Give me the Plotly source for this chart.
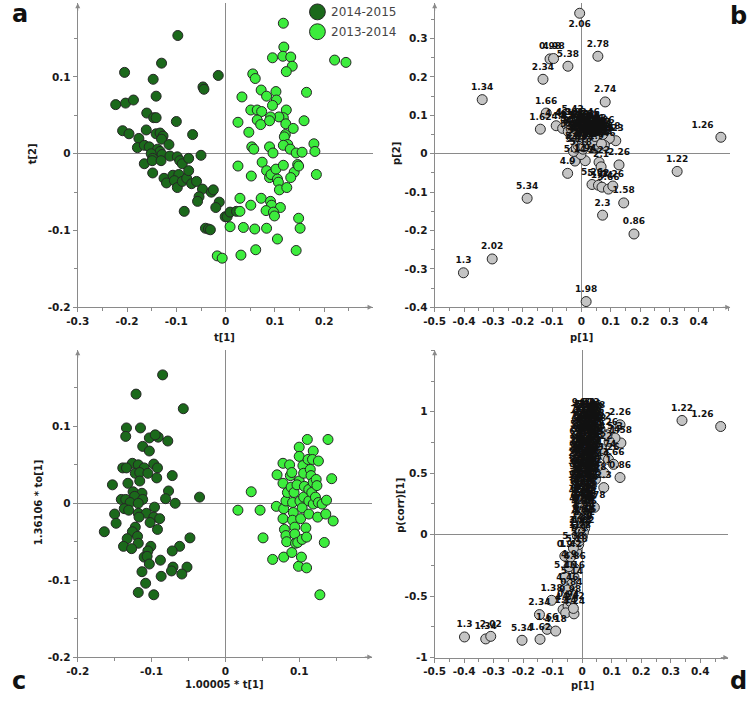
import plotly.graph_objects as go

# ---------------- Panel a : scores t[1] / t[2] ----------------
a_dark_t1 = [
    -0.097, -0.205, -0.130, -0.147, -0.015, -0.046, -0.044, -0.141, -0.223, -0.203,
    -0.187, -0.160, -0.146, -0.141, -0.100, -0.209, -0.196, -0.161, -0.067, -0.176,
    -0.141, -0.133, -0.127, -0.130, -0.179, -0.165, -0.155, -0.138, -0.115, -0.133,
    -0.129, -0.151, -0.148, -0.165, -0.149, -0.131, -0.113, -0.098, -0.093, -0.088,
    -0.075, -0.050, -0.148, -0.125, -0.120, -0.107, -0.095, -0.104, -0.098, -0.088,
    -0.079, -0.075, -0.069, -0.059, -0.047, -0.029, -0.025, -0.054, -0.057, -0.013,
    -0.020, -0.084, -0.001, 0.003, 0.009, 0.022, -0.041, -0.035, -0.031]
a_dark_t2 = [
    0.154, 0.106, 0.118, 0.097, 0.102, 0.087, 0.084, 0.075, 0.064, 0.066,
    0.070, 0.053, 0.047, 0.047, 0.042, 0.030, 0.026, 0.031, 0.025, 0.020,
    0.026, 0.027, 0.023, 0.019, 0.008, 0.011, 0.009, 0.006, 0.012, 0.003,
    -0.001, 0.000, -0.006, -0.013, -0.009, -0.009, -0.003, -0.004, -0.009, -0.013,
    -0.006, -0.002, -0.025, -0.032, -0.038, -0.028, -0.027, -0.035, -0.044, -0.036,
    -0.032, -0.022, -0.039, -0.036, -0.046, -0.050, -0.047, -0.056, -0.062, -0.063,
    -0.070, -0.075, -0.082, -0.082, -0.076, -0.075, -0.097, -0.098, -0.099]
a_light_t1 = [
    0.117, 0.118, 0.095, 0.116, 0.132, 0.135, 0.123, 0.221, 0.244, 0.055,
    0.060, 0.164, 0.072, 0.102, 0.033, 0.083, 0.103, 0.095, 0.051, 0.064,
    0.073, 0.123, 0.117, 0.108, 0.091, 0.064, 0.071, 0.025, 0.122, 0.089,
    0.137, 0.159, 0.047, 0.121, 0.119, 0.126, 0.117, 0.131, 0.143, 0.155,
    0.179, 0.181, 0.053, 0.057, 0.089, 0.096, 0.025, 0.074, 0.083, 0.089,
    0.092, 0.102, 0.105, 0.107, 0.117, 0.139, 0.132, 0.146, 0.148, 0.184,
    0.052, 0.109, 0.124, 0.029, 0.072, 0.051, 0.091, 0.093, 0.111, 0.082,
    0.097, 0.099, 0.029, 0.148, 0.151, 0.009, 0.036, 0.059, 0.083, 0.105,
    0.061, 0.143, 0.031, -0.017, -0.007]
a_light_t2 = [
    0.170, 0.139, 0.125, 0.127, 0.126, 0.114, 0.107, 0.122, 0.119, 0.104,
    0.098, 0.080, 0.083, 0.081, 0.074, 0.075, 0.070, 0.063, 0.057, 0.057,
    0.055, 0.057, 0.047, 0.048, 0.048, 0.044, 0.038, 0.041, 0.039, 0.043,
    0.033, 0.043, 0.028, 0.025, 0.022, 0.012, 0.011, 0.006, 0.001, 0.002,
    0.013, 0.003, 0.009, 0.006, 0.009, 0.001, -0.016, -0.011, -0.022, -0.031,
    -0.027, -0.020, -0.033, -0.037, -0.015, -0.024, -0.031, -0.014, -0.016, -0.027,
    -0.029, -0.047, -0.044, -0.058, -0.058, -0.067, -0.062, -0.067, -0.070, -0.074,
    -0.076, -0.081, -0.075, -0.084, -0.097, -0.095, -0.096, -0.098, -0.097, -0.111,
    -0.125, -0.126, -0.132, -0.133, -0.136]

# ---------------- Panel b : loadings p[1] / p[2] ----------------
b_labels = [
    "2.06", "2.78", "0.98", "4.98", "5.38", "2.34", "1.34", "2.74", "1.66", "1.62",
    "4.46", "4.42", "1.26", "5.3", "1.22", "2.26", "4.9", "5.34", "1.58", "2.3",
    "0.86", "2.02", "1.3", "1.98", "5.26", "5.22", "1.74", "3.66", "3.26", "2.22",
    "2.1", "1.94", "5.14", "5.18", "5.1", "5.42", "4.38", "4.34", "3.82", "3.78",
    "3.74", "3.7", "3.62", "3.58", "3.54", "3.5", "3.46", "3.42", "3.38", "3.34",
    "3.3", "3.22", "3.18", "3.14", "4.06", "4.1", "4.14", "4.02", "3.98", "3.94",
    "3.9", "3.86", "4.22", "4.26", "4.3", "2.14", "2.18", "1.46", "1.5", "5.46",
    "5.02", "4.94", "1.9", "1.86", "2.42", "1.18", "2.46", "6.9", "7.3", "7.02",
    "8.46", "4.5", "4.54", "4.58", "4.62", "4.66", "4.7", "4.74", "4.78", "4.82",
    "3.06", "3.02", "2.94", "2.9", "2.86", "2.82", "2.7", "2.66", "2.62", "2.58",
    "2.54", "6.02", "5.98", "5.86", "5.78", "5.62", "6.14", "6.42", "6.5", "6.62",
    "6.78"]
b_p1 = [
    -0.006, 0.056, -0.107, -0.095, -0.046, -0.131, -0.338, 0.081, -0.120, -0.140,
    -0.086, -0.064, 0.475, 0.117, 0.326, 0.128, -0.047, -0.185, 0.144, 0.072,
    0.179, -0.304, -0.402, 0.016, 0.036, 0.058, 0.070, 0.092, 0.107, 0.060,
    0.067, 0.013, -0.022, -0.002, -0.027, -0.030, -0.050, -0.040, -0.020, -0.010,
    -0.025, 0.000, 0.008, 0.015, 0.022, 0.030, 0.005, 0.012, 0.020, 0.028,
    0.035, 0.040, 0.045, 0.050, 0.055, 0.060, 0.065, 0.070, -0.015, -0.008,
    -0.002, 0.006, 0.014, 0.022, 0.030, 0.040, 0.048, 0.025, 0.035, -0.035,
    -0.018, 0.005, 0.050, 0.075, 0.085, 0.095, 0.078, 0.010, 0.018, 0.030,
    0.040, -0.045, -0.035, -0.015, -0.005, 0.002, 0.010, 0.018, 0.025, 0.032,
    0.038, 0.044, 0.052, 0.058, 0.062, 0.068, 0.072, -0.012, -0.004, 0.008,
    0.016, 0.024, 0.034, 0.042, 0.020, 0.028, 0.012, 0.036, 0.046, -0.020,
    0.000]
b_p2 = [
    0.366, 0.254, 0.247, 0.248, 0.228, 0.194, 0.141, 0.135, 0.106, 0.064,
    0.073, 0.066, 0.043, 0.034, -0.046, -0.029, -0.051, -0.116, -0.128, -0.160,
    -0.209, -0.274, -0.310, -0.385, -0.080, -0.082, -0.087, -0.092, -0.084, -0.022,
    -0.034, -0.018, -0.019, -0.002, 0.006, 0.085, 0.075, 0.068, 0.075, 0.068,
    0.055, 0.060, 0.070, 0.055, 0.065, 0.050, 0.045, 0.038, 0.045, 0.035,
    0.055, 0.042, 0.030, 0.050, 0.040, 0.030, 0.045, 0.035, 0.040, 0.030,
    0.022, 0.028, 0.020, 0.026, 0.018, 0.022, 0.060, 0.075, 0.068, 0.045,
    0.015, 0.012, 0.015, 0.055, 0.035, 0.040, 0.022, 0.050, 0.060, 0.040,
    0.060, 0.058, 0.065, 0.055, 0.048, 0.035, 0.062, 0.032, 0.058, 0.028,
    0.048, 0.036, 0.025, 0.052, 0.038, 0.026, 0.050, 0.022, 0.040, 0.018,
    0.048, 0.040, 0.044, 0.052, 0.052, 0.060, 0.045, 0.032, 0.045, 0.048,
    0.070]

# ---------------- Panel c : OPLS scores ----------------
c_dark_t1 = [
    -0.085, -0.121, -0.057, -0.134, -0.115, -0.135, -0.103, -0.091, -0.095, -0.078,
    -0.112, -0.103, -0.126, -0.118, -0.097, -0.110, -0.139, -0.134, -0.122, -0.116,
    -0.105, -0.092, -0.072, -0.093, -0.116, -0.132, -0.153, -0.125, -0.113, -0.123,
    -0.077, -0.035, -0.081, -0.141, -0.135, -0.129, -0.112, -0.118, -0.068, -0.096,
    -0.137, -0.150, -0.131, -0.118, -0.107, -0.117, -0.097, -0.089, -0.102, -0.148,
    -0.092, -0.122, -0.126, -0.164, -0.119, -0.048, -0.133, -0.118, -0.138, -0.127,
    -0.101, -0.105, -0.062, -0.072, -0.110, -0.106, -0.088, -0.103, -0.071, -0.052,
    -0.073, -0.059, -0.113, -0.087, -0.108, -0.118, -0.097]
c_dark_to = [
    0.167, 0.142, 0.123, 0.098, 0.098, 0.087, 0.085, 0.086, 0.089, 0.081,
    0.074, 0.068, 0.052, 0.050, 0.051, 0.046, 0.046, 0.046, 0.039, 0.040,
    0.039, 0.046, 0.036, 0.033, 0.029, 0.026, 0.024, 0.015, 0.013, 0.009,
    0.016, 0.008, 0.006, 0.005, 0.005, 0.001, 0.005, 0.000, 0.000, -0.005,
    -0.007, -0.014, -0.009, -0.013, -0.013, -0.018, -0.018, -0.020, -0.025, -0.026,
    -0.034, -0.031, -0.037, -0.037, -0.043, -0.045, -0.046, -0.052, -0.056, -0.059,
    -0.056, -0.062, -0.056, -0.062, -0.070, -0.069, -0.074, -0.079, -0.083, -0.083,
    -0.088, -0.092, -0.089, -0.095, -0.104, -0.116, -0.119]
c_light_t1 = [
    0.017, 0.035, 0.047, 0.051, 0.064, 0.069, 0.070, 0.078, 0.078, 0.079,
    0.078, 0.080, 0.082, 0.079, 0.083, 0.082, 0.084, 0.087, 0.088, 0.090,
    0.090, 0.089, 0.093, 0.091, 0.092, 0.091, 0.094, 0.094, 0.095, 0.098,
    0.100, 0.100, 0.100, 0.097, 0.101, 0.104, 0.102, 0.099, 0.103, 0.104,
    0.105, 0.106, 0.107, 0.106, 0.109, 0.110, 0.110, 0.111, 0.112, 0.113,
    0.113, 0.113, 0.115, 0.116, 0.117, 0.119, 0.118, 0.119, 0.119, 0.122,
    0.123, 0.124, 0.125, 0.126, 0.126, 0.128, 0.131, 0.134, 0.136, 0.137,
    0.139, 0.144, 0.146]
c_light_to = [
    -0.009, 0.015, -0.009, -0.045, -0.073, -0.004, 0.037, 0.052, 0.026, -0.007,
    -0.020, -0.034, -0.042, -0.070, -0.050, 0.003, 0.014, 0.050, 0.036, -0.064,
    0.040, 0.021, 0.014, 0.001, -0.012, -0.022, -0.031, -0.040, -0.052, -0.051,
    0.073, 0.061, 0.029, 0.024, 0.003, -0.006, -0.020, -0.082, -0.070, -0.047,
    0.049, 0.039, 0.022, 0.008, -0.032, -0.084, -0.044, 0.083, 0.057, 0.018,
    -0.014, 0.003, 0.044, 0.036, 0.014, 0.068, 0.057, 0.027, -0.001, 0.008,
    0.031, 0.023, -0.018, 0.055, 0.001, -0.119, -0.001, -0.051, -0.014, 0.004,
    0.083, 0.032, -0.023]

# ---------------- Panel d : S-plot p[1] / p(corr)[1] ----------------
d_out_labels = [
    "1.22", "1.26", "2.26", "1.58", "5.3", "1.74", "5.26", "2.74", "3.26", "3.66",
    "0.86", "2.1", "2.3", "2.78", "2.22", "5.22", "4.14", "1.18",
    "1.3", "1.34", "2.02", "5.34", "1.62", "1.66", "4.18", "2.34", "1.38", "4.2",
    "0.94", "1.14", "4.24", "0.98", "0.84", "5.46", "1.16", "4.86", "0.9", "1.42",
    "5.18", "5.2", "5.1", "2.5", "5.38", "4.9", "5.14", "4.46", "4.42"]
d_out_p1 = [
    0.338, 0.469, 0.128, 0.131, 0.111, 0.091, 0.084, 0.078, 0.089, 0.106,
    0.128, 0.073, 0.073, 0.041, 0.060, 0.065, 0.055, 0.045,
    -0.399, -0.327, -0.310, -0.204, -0.143, -0.119, -0.090, -0.145, -0.104, -0.065,
    -0.048, -0.056, -0.028, -0.041, -0.037, -0.058, -0.028, -0.026, -0.059, -0.039,
    -0.019, -0.012, -0.010, -0.017, -0.030, -0.045, -0.035, -0.050, -0.030]
d_out_pcorr = [
    0.929, 0.880, 0.894, 0.746, 0.786, 0.759, 0.813, 0.639, 0.612, 0.572,
    0.465, 0.504, 0.383, 0.222, 0.860, 0.700, 0.560, 0.450,
    -0.832, -0.848, -0.827, -0.859, -0.851, -0.770, -0.784, -0.650, -0.534, -0.609,
    -0.582, -0.636, -0.644, -0.542, -0.483, -0.346, -0.346, -0.274, -0.174, -0.180,
    -0.140, -0.080, -0.050, -0.005, -0.110, -0.260, -0.400, -0.450, -0.600]

# dense column of variables near p[1] = 0 (one row per p(corr) level)
d_col_pcorr = [0.98, 0.95, 0.92, 0.89, 0.86, 0.83, 0.80, 0.77, 0.74, 0.71, 0.68, 0.65,
               0.62, 0.59, 0.56, 0.53, 0.50, 0.47, 0.44, 0.41, 0.38, 0.35, 0.32, 0.29,
               0.26, 0.23, 0.20, 0.17, 0.14, 0.11, 0.08, 0.05, 0.02, -0.02,
               0.965, 0.935, 0.905, 0.875, 0.845, 0.815, 0.785, 0.755, 0.725, 0.695,
               0.665, 0.635, 0.605, 0.575, 0.545, 0.515, 0.485, 0.455, 0.425, 0.395,
               0.365, 0.335, 0.305, 0.275, 0.245, 0.215, 0.185, 0.125]
d_col_p1 = [
    [0.002, 0.018, 0.032], [0.008, 0.025, 0.040], [-0.002, 0.014, 0.030],
    [0.006, 0.022, 0.038], [-0.004, 0.012, 0.028], [0.004, 0.020, 0.036],
    [-0.004, 0.010, 0.026], [0.002, 0.018, 0.034], [-0.006, 0.010, 0.026],
    [0.000, 0.016, 0.032], [-0.006, 0.008, 0.024], [0.000, 0.014, 0.030],
    [-0.008, 0.006, 0.022], [-0.002, 0.012, 0.028], [-0.010, 0.004, 0.020],
    [-0.004, 0.010, 0.024], [-0.010, 0.004, 0.018], [-0.004, 0.010, 0.024],
    [-0.010, 0.004, 0.018], [-0.004, 0.010, 0.022], [-0.010, 0.004, 0.016],
    [-0.004, 0.010], [-0.008, 0.006], [-0.002, 0.012], [-0.008, 0.006],
    [-0.002, 0.012], [-0.006, 0.006], [0.000, 0.012], [-0.006, 0.006],
    [0.000, 0.010], [-0.004, 0.006], [-0.002, 0.008], [-0.006, 0.004], [-0.008, 0.000],
    [0.010, 0.026], [0.004, 0.020, 0.036], [0.010, 0.026],
    [0.002, 0.018, 0.034], [0.008, 0.024, 0.044], [0.000, 0.014, 0.030],
    [0.006, 0.022, 0.040], [-0.002, 0.014, 0.030], [0.006, 0.022],
    [-0.002, 0.012, 0.028], [0.004, 0.020], [-0.004, 0.010, 0.026],
    [0.002, 0.018], [-0.006, 0.008, 0.024], [0.000, 0.016],
    [-0.006, 0.008, 0.022], [0.000, 0.016], [-0.006, 0.008, 0.020],
    [0.000, 0.014], [-0.006, 0.008], [0.002, 0.016], [-0.004, 0.008],
    [0.002, 0.014], [-0.004, 0.008], [0.002, 0.012], [-0.002, 0.010],
    [0.004], [0.004]]
d_col_labels = [
    ["9.82", "6.9", "7.3"], ["8.46", "7.02", "7.18"], ["7.14", "6.86", "3.86"],
    ["8.02", "7.42", "3.18"], ["7.66", "2.14", "3.22"], ["6.5", "7.82", "2.38"],
    ["5.78", "7.9", "3.1"], ["8.1", "7.26", "2.46"], ["6.62", "8.3", "2.42"],
    ["6.78", "7.54", "2.58"], ["5.98", "7.7", "4.02"], ["6.02", "8.22", "2.54"],
    ["5.62", "6.42", "4.06"], ["3.02", "6.14", "4.1"], ["2.94", "5.86", "3.9"],
    ["3.06", "3.3", "3.94"], ["3.34", "3.38", "4.3"], ["3.42", "3.46", "4.34"],
    ["3.5", "3.54", "4.38"], ["3.58", "3.62", "4.22"], ["3.68", "3.7", "4.26"],
    ["3.74", "3.78"], ["3.82", "3.98"], ["4.5", "4.54"], ["4.58", "4.62"],
    ["4.66", "4.7"], ["4.74", "4.78"], ["4.82", "1.46"], ["1.5", "1.54"],
    ["2.62", "2.66"], ["2.7", "2.82"], ["2.86", "2.9"], ["2.98", "1.82"], ["1.78", "1.7"],
    ["7.38", "7.46"], ["7.5", "7.58", "7.62"], ["7.74", "7.78"],
    ["7.86", "7.94", "7.98"], ["8.06", "8.14", "8.18"], ["8.26", "8.34", "8.38"],
    ["8.42", "8.5", "8.54"], ["8.58", "8.62", "8.66"], ["8.7", "8.74"],
    ["8.78", "8.82", "8.86"], ["8.9", "8.94"], ["8.98", "9.02", "9.06"],
    ["9.1", "9.14"], ["9.18", "9.22", "9.26"], ["9.3", "9.34"],
    ["9.38", "9.42", "9.46"], ["9.5", "9.54"], ["9.58", "9.62", "9.66"],
    ["9.7", "9.74"], ["9.78", "9.86"], ["9.9", "9.94"], ["9.98", "6.06"],
    ["6.1", "6.18"], ["6.22", "6.26"], ["6.3", "6.34"], ["6.38", "6.46"],
    ["6.54"], ["6.58"]]

# ticks
a_xticks = [-0.3, -0.2, -0.1, 0, 0.1, 0.2]
a_xtext = ["-0.3", "-0.2", "-0.1", "0", "0.1", "0.2"]
a_yticks = [-0.2, -0.1, 0, 0.1]
a_ytext = ["-0.2", "-0.1", "0", "0.1"]
b_xticks = [-0.5, -0.4, -0.3, -0.2, -0.1, 0, 0.1, 0.2, 0.3, 0.4]
b_xtext = ["-0.5", "-0.4", "-0.3", "-0.2", "-0.1", "0", "0.1", "0.2", "0.3", "0.4"]
b_yticks = [-0.4, -0.3, -0.2, -0.1, 0, 0.1, 0.2, 0.3]
b_ytext = ["-0.4", "-0.3", "-0.2", "-0.1", "0", "0.1", "0.2", "0.3"]
c_xticks = [-0.2, -0.1, 0, 0.1]
c_xtext = ["-0.2", "-0.1", "0", "0.1"]
c_yticks = [-0.2, -0.1, 0, 0.1]
c_ytext = ["-0.2", "-0.1", "0", "0.1"]
d_yticks = [-1, -0.5, 0, 0.5, 1]
d_ytext = ["-1", "-0.5", "0", "0.5", "1"]

legend_names = ["2014-2015", "2013-2014"]

# ---------------- styling ----------------
DARK = "#1b691b"
LIGHT = "#3cec3c"
GREY = "#c4c4c4"
EDGE = "#262626"
AX = "#8a8a8a"
FONT = "DejaVu Sans"

# flatten the dense column
d_labels = list(d_out_labels)
d_p1 = list(d_out_p1)
d_pcorr = list(d_out_pcorr)
for pc, xs, ls in zip(d_col_pcorr, d_col_p1, d_col_labels):
    for xv, lv in zip(xs, ls):
        d_labels.append(lv)
        d_p1.append(xv)
        d_pcorr.append(pc)

special_pos = {"2.06": "bottom center", "1.26": "top left"}

fig = go.Figure()

def sc(x, y, color, xa, ya, size=10):
    return go.Scatter(x=x, y=y, mode="markers", xaxis=xa, yaxis=ya, showlegend=False,
                      marker=dict(size=size, color=color, line=dict(color=EDGE, width=1)),
                      hoverinfo="skip")

fig.add_trace(sc(a_dark_t1, a_dark_t2, DARK, "x", "y"))
fig.add_trace(sc(a_light_t1, a_light_t2, LIGHT, "x", "y"))
fig.add_trace(sc(c_dark_t1, c_dark_to, DARK, "x3", "y3"))
fig.add_trace(sc(c_light_t1, c_light_to, LIGHT, "x3", "y3"))

labfont = dict(family=FONT, size=9, color="#111", weight="bold")
fig.add_trace(go.Scatter(
    x=b_p1, y=b_p2, text=b_labels, mode="markers+text", xaxis="x2", yaxis="y2",
    textposition=[special_pos.get(l, "top center") for l in b_labels],
    textfont=labfont, showlegend=False, cliponaxis=False,
    marker=dict(size=10, color=GREY, line=dict(color=EDGE, width=1))))
fig.add_trace(go.Scatter(
    x=d_p1, y=d_pcorr, text=d_labels, mode="markers+text", xaxis="x4", yaxis="y4",
    textposition=["top left" if l == "1.26" else "top center" for l in d_labels],
    textfont=labfont, showlegend=False, cliponaxis=False,
    marker=dict(size=10, color=GREY, line=dict(color=EDGE, width=1))))

tickfont = dict(family=FONT, size=10.5, color="#1a1a1a", weight="bold")

def axis(rng, dom, anchor, tv, tt, mdt):
    return dict(range=rng, domain=dom, anchor=anchor, tickmode="array", tickvals=tv,
                ticktext=tt, ticks="outside", ticklen=4, tickwidth=1, tickcolor=AX,
                showline=True, linecolor=AX, linewidth=1, showgrid=False,
                zeroline=True, zerolinecolor=AX, zerolinewidth=1, tickfont=tickfont,
                minor=dict(ticks="outside", ticklen=3, dtick=mdt, tick0=0,
                           tickcolor=AX, showgrid=False),
                fixedrange=True)

L_dom = [0.0903, 0.4893]
R_dom = [0.5733, 0.9733]
T_dom = [0.5578, 0.9953]
B_dom = [0.0546, 0.4960]

fig.update_layout(
    width=750, height=701, margin=dict(l=0, r=0, t=0, b=0),
    paper_bgcolor="white", plot_bgcolor="white", showlegend=False,
    xaxis=axis([-0.3, 0.298], L_dom, "y", a_xticks, a_xtext, 0.05),
    yaxis=axis([-0.2, 0.196], T_dom, "x", a_yticks, a_ytext, 0.05),
    xaxis2=axis([-0.5, 0.507], R_dom, "y2", b_xticks, b_xtext, 0.05),
    yaxis2=axis([-0.4, 0.392], T_dom, "x2", b_yticks, b_ytext, 0.05),
    xaxis3=axis([-0.2, 0.199], [0.0903, 0.4889], "y3", c_xticks, c_xtext, 0.05),
    yaxis3=axis([-0.2, 0.199], B_dom, "x3", c_yticks, c_ytext, 0.05),
    xaxis4=axis([-0.5, 0.495], [0.5733, 0.9707], "y4", b_xticks, b_xtext, 0.05),
    yaxis4=axis([-1, 1.5], [0.0538, 0.4960], "x4", d_yticks, d_ytext, 0.25),
)

ann = []
# axis arrows
for xa, ya in [("x", "y"), ("x2", "y2"), ("x3", "y3"), ("x4", "y4")]:
    ann.append(dict(x=1, y=0, xref=xa + " domain", yref=ya + " domain", ax=-9, ay=0,
                    text="", showarrow=True, arrowhead=2, arrowsize=1, arrowwidth=1,
                    arrowcolor=AX))
    ann.append(dict(x=0, y=1, xref=xa + " domain", yref=ya + " domain", ax=0, ay=9,
                    text="", showarrow=True, arrowhead=2, arrowsize=1, arrowwidth=1,
                    arrowcolor=AX))

titlefont = dict(family=FONT, size=10, color="#1a1a1a", weight="bold")
def px(x, y):
    return x / 750.0, 1 - y / 701.0

for txt, (x, y), ang in [("t[1]", (217, 340), 0), ("t[2]", (22, 155), -90),
                         ("p[1]", (579, 340), 0), ("p[2]", (391, 155), -90),
                         ("1.00005 * t[1]", (217, 690), 0), ("1.36106 * to[1]", (28, 507), -90),
                         ("p[1]", (580, 691), 0), ("p(corr)[1]", (395, 510), -90)]:
    xx, yy = px(x, y)
    ann.append(dict(x=xx, y=yy, xref="paper", yref="paper", text=txt, showarrow=False,
                    textangle=ang, font=titlefont, xanchor="center", yanchor="middle"))

letterfont = dict(family=FONT, size=24, color="#111", weight="bold")
for txt, (x, y), xanc in [("a", (0, 14), "left"), ("b", (748, 16), "right"),
                          ("c", (0, 687), "left"), ("d", (748, 687), "right")]:
    xx, yy = px(x, y)
    ann.append(dict(x=xx, y=yy, xref="paper", yref="paper", text=txt, showarrow=False,
                    font=letterfont, xanchor=xanc, yanchor="middle", borderpad=0))

# legend (panel a)
shapes = []
for i, (name, col) in enumerate(zip(legend_names, [DARK, LIGHT])):
    cy = 12 + 20 * i
    x0, y0 = px(303, cy + 8)
    x1, y1 = px(319, cy - 8)
    shapes.append(dict(type="circle", xref="paper", yref="paper", x0=x0, x1=x1,
                       y0=y0, y1=y1, fillcolor=col, line=dict(color=EDGE, width=1)))
    tx, ty = px(323, cy)
    ann.append(dict(x=tx, y=ty, xref="paper", yref="paper", text=name, showarrow=False,
                    xanchor="left", yanchor="middle",
                    font=dict(family=FONT, size=12, color="#444")))

fig.update_layout(annotations=ann, shapes=shapes)
fig.write_html("out.html", config={"displayModeBar": False},
               post_script="document.body.style.margin='0px';document.body.style.overflow='hidden';")
